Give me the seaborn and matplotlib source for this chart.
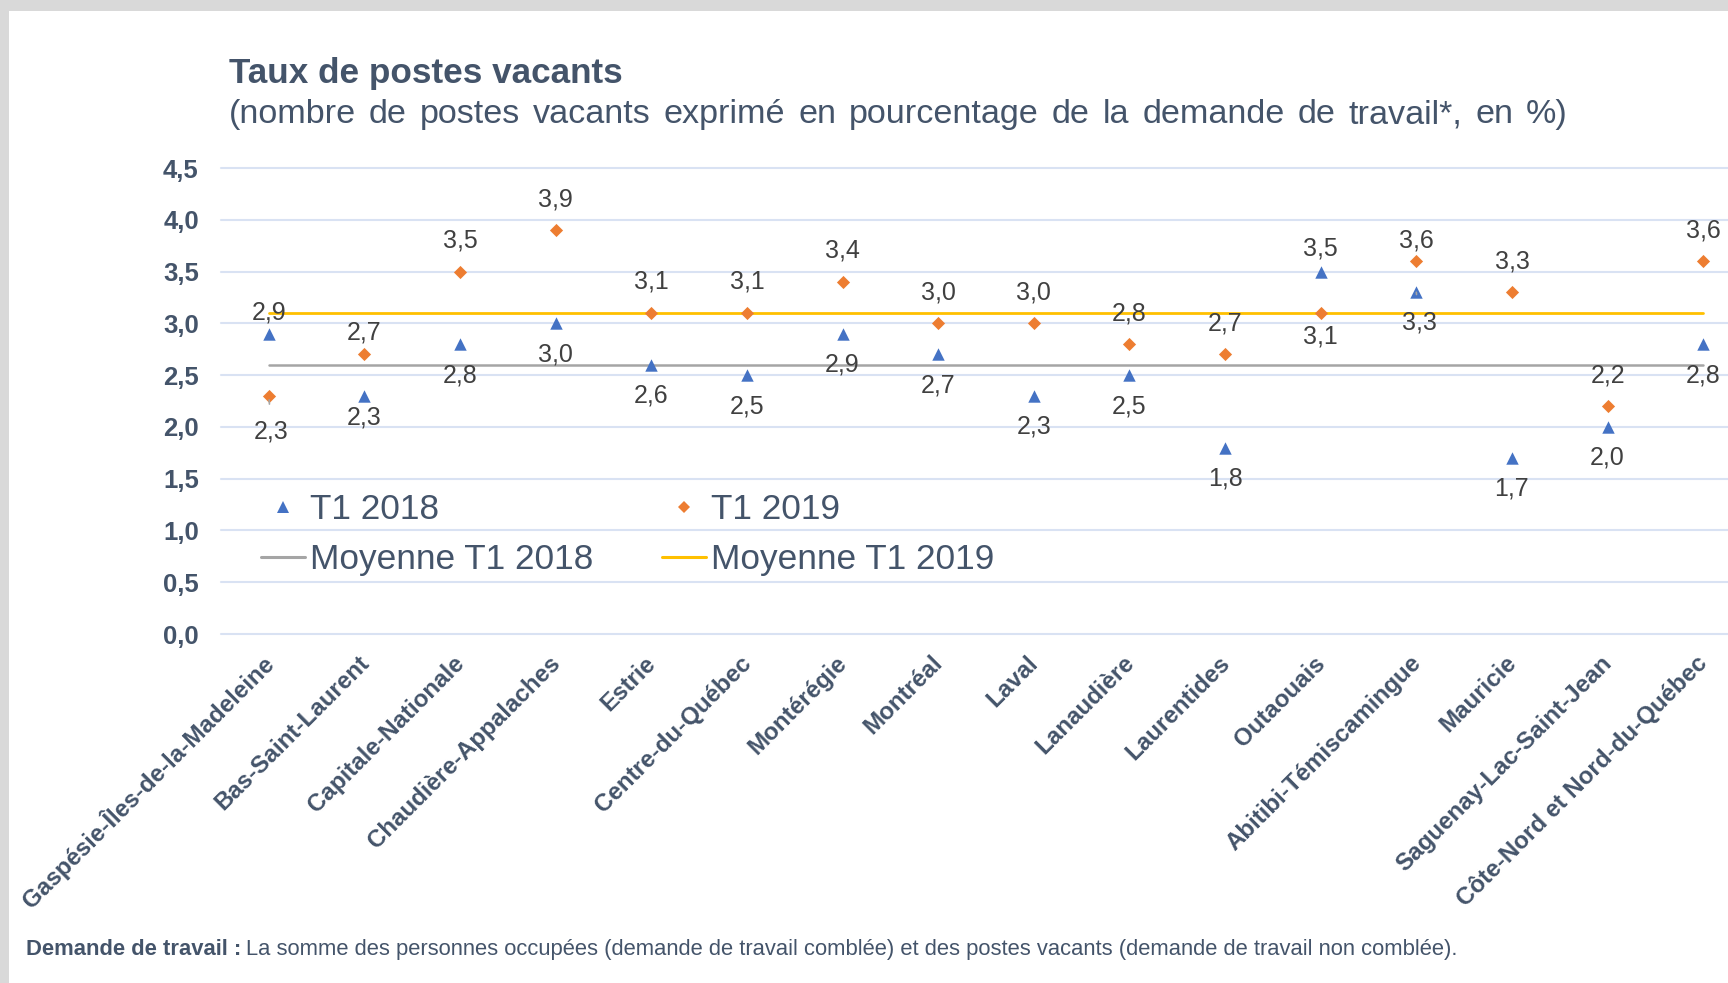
import matplotlib
matplotlib.use("Agg")
import matplotlib.pyplot as plt
import matplotlib.transforms as mtransforms
from matplotlib.lines import Line2D
from matplotlib.patches import Rectangle
import pandas as pd
import seaborn as sns

# Données (taux de postes vacants, en %)
regions = [
    "Gaspésie-Îles-de-la-Madeleine", "Bas-Saint-Laurent", "Capitale-Nationale",
    "Chaudière-Appalaches", "Estrie", "Centre-du-Québec", "Montérégie", "Montréal",
    "Laval", "Lanaudière", "Laurentides", "Outaouais", "Abitibi-Témiscamingue",
    "Mauricie", "Saguenay-Lac-Saint-Jean", "Côte-Nord et Nord-du-Québec",
]
t1_2018 = [2.9, 2.3, 2.8, 3.0, 2.6, 2.5, 2.9, 2.7, 2.3, 2.5, 1.8, 3.5, 3.3, 1.7, 2.0, 2.8]
t1_2019 = [2.3, 2.7, 3.5, 3.9, 3.1, 3.1, 3.4, 3.0, 3.0, 2.8, 2.7, 3.1, 3.6, 3.3, 2.2, 3.6]
moyenne_2018 = 2.6
moyenne_2019 = 3.1
yticks = [0.0, 0.5, 1.0, 1.5, 2.0, 2.5, 3.0, 3.5, 4.0, 4.5]

# Couleurs
BLUE = "#4472c4"
ORANGE = "#ed7d31"
GREY = "#a5a5a5"
GOLD = "#ffc000"
TXT = "#44546a"
LBL = "#404040"
GRID = "#d9e2f3"

sns.set_theme(style="white")
plt.rcParams["font.family"] = ["Liberation Sans", "DejaVu Sans"]

df = pd.DataFrame({"region": regions, "T1 2018": t1_2018, "T1 2019": t1_2019})
df["moy_2018"] = moyenne_2018
df["moy_2019"] = moyenne_2019

W, H = 1728, 983
fig = plt.figure(figsize=(W / 100, H / 100), dpi=100, facecolor="#d9d9d9")
fig.patches.append(Rectangle((9 / W, 0), 1, 1 - 11 / H, transform=fig.transFigure,
                             facecolor="white", edgecolor="none", zorder=-10))

ax = fig.add_axes([221 / W, 349 / H, 1530 / W, 466 / H])
ax.set_facecolor("none")

# lignes de moyenne
sns.lineplot(data=df, x="region", y="moy_2018", color=GREY, lw=1.8, sort=False, ax=ax, zorder=2)
sns.lineplot(data=df, x="region", y="moy_2019", color=GOLD, lw=2.0, sort=False, ax=ax, zorder=2)

# points
sns.scatterplot(data=df, x="region", y="T1 2018", marker="^", s=80, color=BLUE,
                linewidth=0, ax=ax, zorder=4)
sns.scatterplot(data=df, x="region", y="T1 2019", marker="D", s=45, color=ORANGE,
                linewidth=0, ax=ax, zorder=4)

ax.set_xlim(-0.5, len(regions) - 0.5)
ax.set_ylim(0, 4.5)
ax.set_yticks(yticks)
ax.set_yticklabels([f"{v:.1f}".replace(".", ",") for v in yticks])
ax.set_xlabel("")
ax.set_ylabel("")
for s in ax.spines.values():
    s.set_visible(False)
ax.grid(axis="y", color=GRID, lw=1.5)
ax.grid(axis="x", visible=False)
for gl in ax.yaxis.get_gridlines():
    gl.set_clip_on(False)
ax.set_axisbelow(True)
ax.tick_params(axis="y", length=0, pad=16, labelsize=18.5, labelcolor=TXT)
ax.tick_params(axis="x", length=0, pad=18.5, labelsize=17.4, labelcolor=TXT)
for lab in ax.get_yticklabels():
    lab.set_fontweight("bold")
shift = mtransforms.ScaledTranslation(1 / 100, 0, fig.dpi_scale_trans)
for lab in ax.get_xticklabels():
    lab.set_fontweight("bold")
    lab.set_rotation(45)
    lab.set_ha("right")
    lab.set_va("center")
    lab.set_rotation_mode("anchor")
    lab.set_transform(lab.get_transform() + shift)

# étiquettes de données : la plus haute au-dessus, la plus basse en dessous
px = 0.72  # pixels -> points
near = {(0, "a"): 21, (1, "a"): 22, (1, "b"): 22, (11, "a"): 23, (11, "b"): 24,
        (12, "a"): 21}
leaders = {(0, "b"): 36, (12, "b"): 30}
for i, (a, b) in enumerate(zip(t1_2018, t1_2019)):
    hi, lo = max(a, b), min(a, b)
    for key, v, sign in (("a", hi, 1), ("b", lo, -1)):
        d = near.get((i, key), leaders.get((i, key), 31))
        arrow = None
        if (i, key) in leaders:
            arrow = dict(arrowstyle="-", color=GREY, lw=1.2, shrinkA=9, shrinkB=3)
        ax.annotate(f"{v:.1f}".replace(".", ","), xy=(i, v),
                    xytext=(2 if arrow else 0, sign * d * px), textcoords="offset points",
                    ha="center", va="center", fontsize=18, color=LBL,
                    arrowprops=arrow, zorder=5)

# légende
handles = [
    Line2D([], [], ls="none", marker="^", ms=8, color=BLUE, mew=0),
    Line2D([], [], color=GREY, lw=2.2),
    Line2D([], [], ls="none", marker="D", ms=6, color=ORANGE, mew=0),
    Line2D([], [], color=GOLD, lw=2.2),
]
labels = ["T1 2018", "Moyenne T1 2018", "T1 2019", "Moyenne T1 2019"]
leg = ax.legend(handles, labels, ncol=2, loc="upper left",
                bbox_to_anchor=(261 / W, 1 - 493 / H), bbox_transform=fig.transFigure,
                frameon=False, fontsize=25.4, handlelength=1.25, handletextpad=0.15,
                columnspacing=1.93, labelspacing=0.48, borderpad=0, borderaxespad=0)
for t in leg.get_texts():
    t.set_color(TXT)

renderer = fig.canvas.get_renderer()

# titres
fig.text(229 / W, 1 - 83 / H, "Taux de postes vacants", fontsize=25.3, fontweight="bold",
         color=TXT, va="baseline", ha="left")
# sous-titre justifié (espaces élargis comme dans l'original)
subtitle = "(nombre de postes vacants exprimé en pourcentage de la demande de travail*, en %)"
words = subtitle.split(" ")
word_texts = [fig.text(0, 1 - 123 / H, w, fontsize=24.6, color=TXT, va="baseline", ha="left")
              for w in words]
widths = [t.get_window_extent(renderer).width for t in word_texts]
x0, x1 = 229, 1568
gap = (x1 - x0 - sum(widths)) / (len(words) - 1)
x = x0
for t, w in zip(word_texts, widths):
    t.set_x(x / W)
    x += w + gap

# note de bas de page
t_bold = fig.text(26 / W, 1 - 955 / H, "Demande de travail :", fontsize=15.8,
                  fontweight="bold", color=TXT, va="baseline", ha="left")
bb = t_bold.get_window_extent(renderer)
fig.text((bb.x1 + 5) / W, 1 - 955 / H,
         "La somme des personnes occupées (demande de travail comblée) et des postes vacants "
         "(demande de travail non comblée).",
         fontsize=15.8, color=TXT, va="baseline", ha="left")

fig.savefig("out.png", dpi=100, facecolor=fig.get_facecolor())
